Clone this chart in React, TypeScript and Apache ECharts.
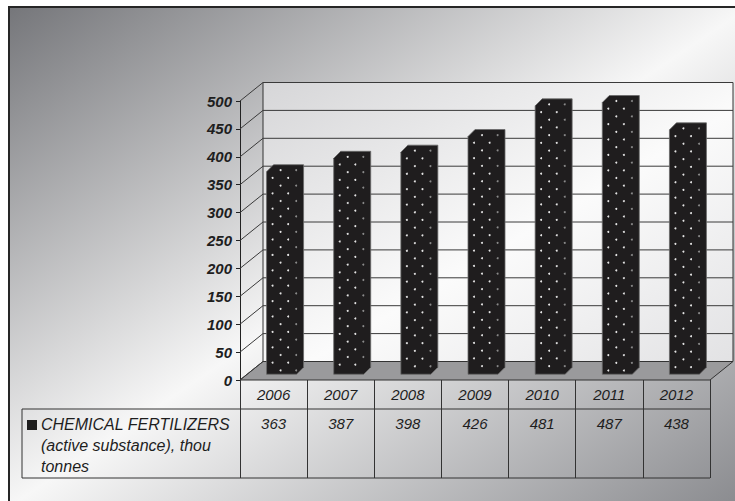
import React, { useEffect, useRef } from "react";
import * as echarts from "echarts";

const categories = ["2006", "2007", "2008", "2009", "2010", "2011", "2012"];
const values = [363, 387, 398, 426, 481, 487, 438];
const yTicks = [0, 50, 100, 150, 200, 250, 300, 350, 400, 450, 500];
const seriesLabel = "CHEMICAL FERTILIZERS\n(active substance), thou\ntonnes";

const DX = 23;
const DY = -18.5;
const BOX_HALF = 15;
const BOX_D = 3.5;
const FONT = '"Liberation Sans", Arial, sans-serif';

export default function App() {
  const ref = useRef<HTMLDivElement>(null);
  useEffect(() => {
    if (!ref.current) return;
    const chart = echarts.init(ref.current, null, { renderer: "svg" });

    const renderFrame = (params: any, api: any) => {
      const cs = params.coordSys;
      const left = cs.x;
      const right = cs.x + cs.width;
      const top = cs.y;
      const bottom = cs.y + cs.height;
      const children: any[] = [];
      children.push({
        type: "polygon",
        shape: {
          points: [
            [left + DX, top + DY],
            [right + DX, top + DY],
            [right + DX, bottom + DY],
            [left + DX, bottom + DY],
          ],
        },
        style: {
          fill: new echarts.graphic.LinearGradient(0, 0, 1, 1, [
            { offset: 0, color: "#d6d6d8" },
            { offset: 0.55, color: "#fbfbfb" },
            { offset: 1, color: "#e2e2e4" },
          ]),
          stroke: "#333",
          lineWidth: 1,
        },
      });
      children.push({
        type: "polygon",
        shape: {
          points: [
            [left, bottom],
            [left + DX, bottom + DY],
            [right + DX, bottom + DY],
            [right, bottom],
          ],
        },
        style: { fill: "#9a9a9c", stroke: "#333", lineWidth: 1 },
      });
      yTicks.forEach((v) => {
        const y = api.coord([0, v])[1];
        if (v > 0) {
          children.push({
            type: "line",
            shape: { x1: left + DX, y1: y + DY, x2: right + DX, y2: y + DY },
            style: { stroke: "#3a3a3a", lineWidth: 1 },
          });
        }
        children.push({
          type: "line",
          shape: { x1: left, y1: y, x2: left + DX, y2: y + DY },
          style: { stroke: "#3a3a3a", lineWidth: 1 },
        });
      });
      // table lines
      const tl = 22;
      children.push({
        type: "line",
        shape: { x1: tl, y1: bottom + 29, x2: right, y2: bottom + 29 },
        style: { stroke: "#333", lineWidth: 1 },
      });
      children.push({
        type: "line",
        shape: { x1: tl, y1: bottom + 98, x2: right, y2: bottom + 98 },
        style: { stroke: "#333", lineWidth: 1 },
      });
      children.push({
        type: "line",
        shape: { x1: tl, y1: bottom + 29, x2: tl, y2: bottom + 98 },
        style: { stroke: "#333", lineWidth: 1 },
      });
      return { type: "group", children };
    };

    const renderBar = (params: any, api: any) => {
      const idx = api.value(0);
      const v = api.value(1);
      const [fx, fy] = api.coord([idx, v]);
      const fy0 = api.coord([idx, 0])[1];
      const cx = fx + DX / 2;
      const yc = fy + DY / 2;
      const yc0 = fy0 + DY / 2;
      const x1 = cx - BOX_D - BOX_HALF;
      const x2 = cx - BOX_D + BOX_HALF;
      const ytop = yc + BOX_D;
      const ybot = yc0 + BOX_D;
      const d2 = BOX_D * 2;
      const children: any[] = [
        {
          type: "polygon",
          shape: {
            points: [
              [x1, ytop],
              [x1 + d2, ytop - d2],
              [x2 + d2, ytop - d2],
              [x2 + d2, ybot - d2],
              [x2, ybot],
              [x1, ybot],
            ],
          },
          style: { fill: "#1f1d1e", stroke: "#6a6a6a", lineWidth: 0.8 },
        },
      ];
      let r = 0;
      for (let y = ytop - 1.5; y < ybot - 2; y += 7.7, r++) {
        const off = r % 2 === 0 ? 14 : 6;
        for (let x = x1 + off; x < x2 + d2 - 1.5; x += 15.6) {
          children.push({
            type: "circle",
            shape: { cx: x, cy: y, r: 1 },
            style: { fill: x > x2 - 1 ? "#8a8a8a" : "#e4e4e4" },
          });
        }
      }
      children.push({
        type: "text",
        x: fx,
        y: fy0 + 43,
        style: {
          text: String(v),
          fill: "#1e1e1e",
          font: `italic 15px ${FONT}`,
          align: "center",
          verticalAlign: "middle",
        },
      });
      return { type: "group", children };
    };

    chart.setOption({
      animation: false,
      graphic: [
        {
          type: "rect",
          z: -100,
          shape: { x: 9, y: 7, width: 740, height: 500 },
          style: {
            fill: new echarts.graphic.LinearGradient(0, 0, 1, 1, [
              { offset: 0, color: "#75767a" },
              { offset: 0.5, color: "#f7f7f7" },
              { offset: 1, color: "#88898d" },
            ]),
            stroke: "#262626",
            lineWidth: 2,
          },
        },
        {
          type: "rect",
          z: 10,
          shape: { x: 27, y: 420, width: 10, height: 10 },
          style: { fill: "#1e1e1e" },
        },
        {
          type: "text",
          z: 10,
          x: 41,
          y: 413.5,
          style: {
            text: seriesLabel,
            fill: "#1e1e1e",
            font: `italic 16px ${FONT}`,
            lineHeight: 21,
            verticalAlign: "top",
          },
        },
      ],
      grid: { left: 240, top: 101, width: 470, height: 279, containLabel: false },
      xAxis: {
        type: "category",
        data: categories,
        boundaryGap: true,
        axisLine: { show: false },
        axisTick: { show: true, length: 98, lineStyle: { color: "#333", width: 1 } },
        axisLabel: {
          margin: 7,
          color: "#1e1e1e",
          fontStyle: "italic",
          fontSize: 15,
          fontFamily: FONT,
        },
        splitLine: { show: false },
      },
      yAxis: {
        type: "value",
        min: 0,
        max: 500,
        interval: 50,
        axisLine: { show: true, lineStyle: { color: "#222", width: 1 } },
        axisTick: { show: true, length: 4, lineStyle: { color: "#222" } },
        axisLabel: {
          margin: 8,
          color: "#1e1e1e",
          fontStyle: "italic",
          fontWeight: "bold",
          fontSize: 15,
          fontFamily: FONT,
        },
        splitLine: { show: false },
      },
      series: [
        {
          type: "custom",
          z: 1,
          silent: true,
          data: [[0, 0]],
          renderItem: renderFrame,
        },
        {
          type: "custom",
          z: 3,
          name: "CHEMICAL FERTILIZERS",
          data: values.map((v, i) => [i, v]),
          renderItem: renderBar,
        },
      ],
    });
    return () => chart.dispose();
  }, []);
  return (
    <div
      ref={ref}
      style={{ position: "fixed", left: 0, top: 0, width: 735, height: 501, background: "#fff" }}
    />
  );
}
